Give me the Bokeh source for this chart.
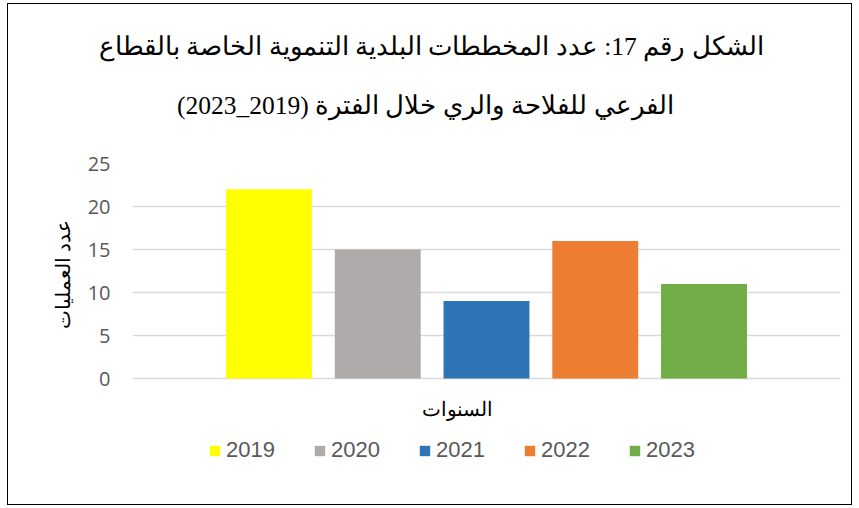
from bokeh.plotting import figure
from bokeh.models import (Range1d, FactorRange, Title, Legend, LegendItem, Label,
                          ColumnDataSource, FixedTicker)
from bokeh.embed import file_html
from bokeh.resources import INLINE

years = ["2019", "2020", "2021", "2022", "2023"]
values = [22, 15, 9, 16, 11]
colors = ["#FFFF00", "#AFABAB", "#2E75B6", "#ED7D31", "#70AD47"]
y_ticks = [0, 5, 10, 15, 20, 25]

title_line1 = "\u202Bالشكل رقم 17: عدد المخططات البلدية التنموية الخاصة بالقطاع\u202C"
title_line2 = "\u202Bالفرعي للفلاحة والري خلال الفترة (2019_2023)\u202C"
y_label = "عدد العمليات"
x_label = "السنوات"

# layout (pixels)
W, H = 845, 502
top, bottom_pad = 159, 3
frame_h = H - top - bottom_pad
plot_h = 215            # pixel height of the 0..25 value span
y_max = 25
y_min = y_max - frame_h * y_max / plot_h   # extra room under 0 for axis title & legend

p = figure(width=W, height=H, output_backend="svg", toolbar_location=None,
           x_range=FactorRange(factors=years, range_padding=0.302),
           y_range=Range1d(y_min, y_max),
           min_border_left=124, min_border_right=13, min_border_top=top,
           min_border_bottom=bottom_pad)
p.margin = (3, 0, 0, 7)
p.styles = {"border": "1.5px solid #000000"}
p.outline_line_color = None
p.background_fill_color = "white"
p.border_fill_color = "white"

src = ColumnDataSource(dict(year=years, value=values, color=colors))
r = p.vbar(x="year", top="value", bottom=0, width=0.79, fill_color="color",
           line_color=None, source=src)

p.xaxis.visible = False
p.xgrid.grid_line_color = None
p.ygrid.grid_line_color = "#D9D9D9"
p.ygrid.grid_line_width = 1.5
p.ygrid.ticker = FixedTicker(ticks=y_ticks)

ax = p.yaxis[0]
ax.ticker = FixedTicker(ticks=y_ticks)
ax.axis_line_color = None
ax.major_tick_line_color = None
ax.minor_tick_line_color = None
ax.major_tick_out = 0
ax.major_label_standoff = 22
ax.major_label_text_font = "Open Sans"
ax.major_label_text_font_size = "20px"
ax.major_label_text_color = "#595959"

# y-axis title, placed beside the 0..25 span
yt = Title(text=y_label, align="right", offset=56, text_font="Liberation Serif",
           text_font_size="20px", text_font_style="normal", text_color="#000000", standoff=22)
p.add_layout(yt, "left")

# x-axis title under the bars
xl = Label(x=2.229, y=-3.6, text=x_label, text_align="center", text_baseline="middle",
           text_font="Liberation Serif", text_font_size="20px", text_color="#000000")
p.add_layout(xl)

items = [LegendItem(label=years[i], renderers=[r], index=i) for i in range(len(years))]
legend = Legend(items=items, orientation="horizontal", location=(76, 40),
                glyph_width=13, glyph_height=13, label_standoff=5, label_width=50,
                spacing=37, padding=0, margin=0, border_line_color=None,
                background_fill_color=None, background_fill_alpha=0,
                label_text_font="Liberation Sans", label_text_font_size="22px",
                label_text_color="#595959")
p.add_layout(legend, "center")

t2 = Title(text=title_line2, align="right", offset=167, text_font="Liberation Serif",
           text_font_size="25.5px", text_font_style="normal", text_color="#000000", standoff=87)
p.add_layout(t2, "above")
t1 = Title(text=title_line1, align="right", offset=77, text_font="Liberation Serif",
           text_font_size="25.5px", text_font_style="normal", text_color="#000000", standoff=-31)
p.add_layout(t1, "above")

open("out.html", "w").write(file_html(p, INLINE))
